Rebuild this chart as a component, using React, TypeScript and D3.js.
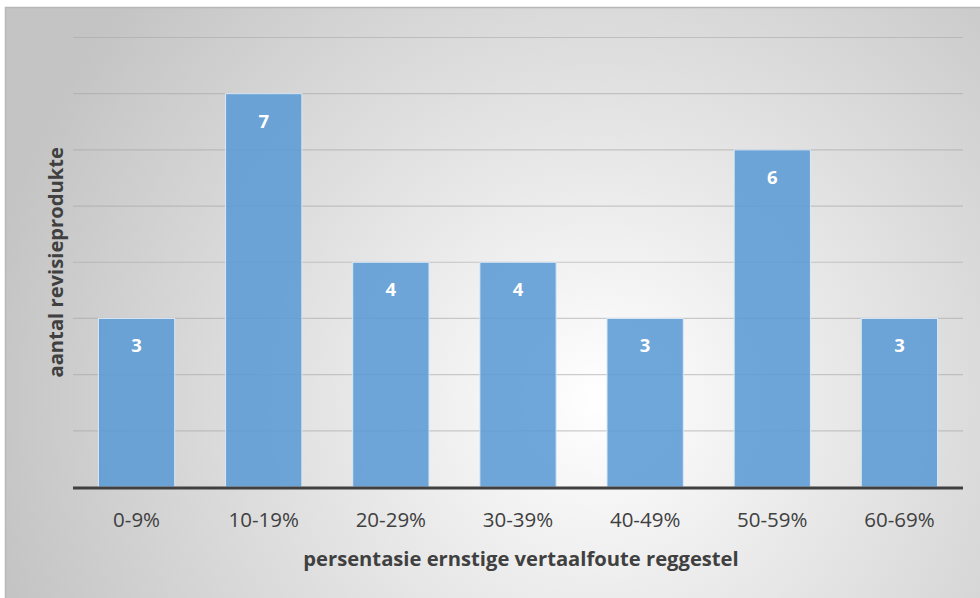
import React from "react";
import * as d3 from "d3";

const categories = ["0-9%", "10-19%", "20-29%", "30-39%", "40-49%", "50-59%", "60-69%"];
const counts = [3, 7, 4, 4, 3, 6, 3];
const gridTicks = [0, 1, 2, 3, 4, 5, 6, 7, 8];

const W = 980;
const H = 598;
const FONT = "'Open Sans', 'Noto Sans', sans-serif";

export default function App() {
  const margin = { left: 73, right: 17, top: 37.5, bottom: 111 };
  const x = d3
    .scaleBand<string>()
    .domain(categories)
    .range([margin.left, W - margin.right])
    .paddingInner(0.4)
    .paddingOuter(0.2);
  const y = d3.scaleLinear().domain([0, 8]).range([H - margin.bottom, margin.top]);

  return (
    <svg width={W} height={H} style={{ position: "absolute", left: 0, top: 0 }} fontFamily={FONT}>
      <defs>
        <radialGradient id="bg" gradientUnits="userSpaceOnUse" cx={600} cy={400} r={620}>
          <stop offset="0" stopColor="#ffffff" />
          <stop offset="1" stopColor="#c4c4c4" />
        </radialGradient>
      </defs>
      <rect x={0} y={0} width={W} height={H} fill="#ffffff" />
      <rect x={5} y={7} width={W - 5} height={H - 7} fill="url(#bg)" />
      <path d={`M5.5,${H} V7.5 H${W}`} fill="none" stroke="#b8b8b8" strokeWidth={1.5} />

      {gridTicks.slice(1).map((t) => (
        <line
          key={t}
          x1={margin.left}
          x2={W - margin.right}
          y1={y(t)}
          y2={y(t)}
          stroke="#a6a6a6"
          strokeOpacity={0.55}
          strokeWidth={1.2}
        />
      ))}

      {categories.map((c, i) => (
        <g key={c}>
          <rect
            x={x(c)!}
            y={y(counts[i])}
            width={x.bandwidth()}
            height={y(0) - y(counts[i])}
            fill="#5b9bd5"
            fillOpacity={0.88}
            stroke="#dbe8f5"
            strokeWidth={1}
          />
          <text
            x={x(c)! + x.bandwidth() / 2}
            y={y(counts[i]) + 34}
            textAnchor="middle"
            fill="#ffffff"
            fontWeight={700}
            fontSize={18.5}
          >
            {counts[i]}
          </text>
          <text
            x={x(c)! + x.bandwidth() / 2}
            y={527}
            textAnchor="middle"
            fill="#404040"
            fontSize={20.5}
          >
            {c}
          </text>
        </g>
      ))}

      <line
        x1={margin.left}
        x2={W - margin.right}
        y1={y(0) + 1}
        y2={y(0) + 1}
        stroke="#404040"
        strokeWidth={3}
      />

      <text x={521} y={566} textAnchor="middle" fill="#404040" fontWeight={700} fontSize={20.2}>
        persentasie ernstige vertaalfoute reggestel
      </text>
      <text
        transform={`translate(63, ${y(4)}) rotate(-90)`}
        textAnchor="middle"
        fill="#404040"
        fontWeight={700}
        fontSize={20.2}
      >
        aantal revisieprodukte
      </text>
    </svg>
  );
}
